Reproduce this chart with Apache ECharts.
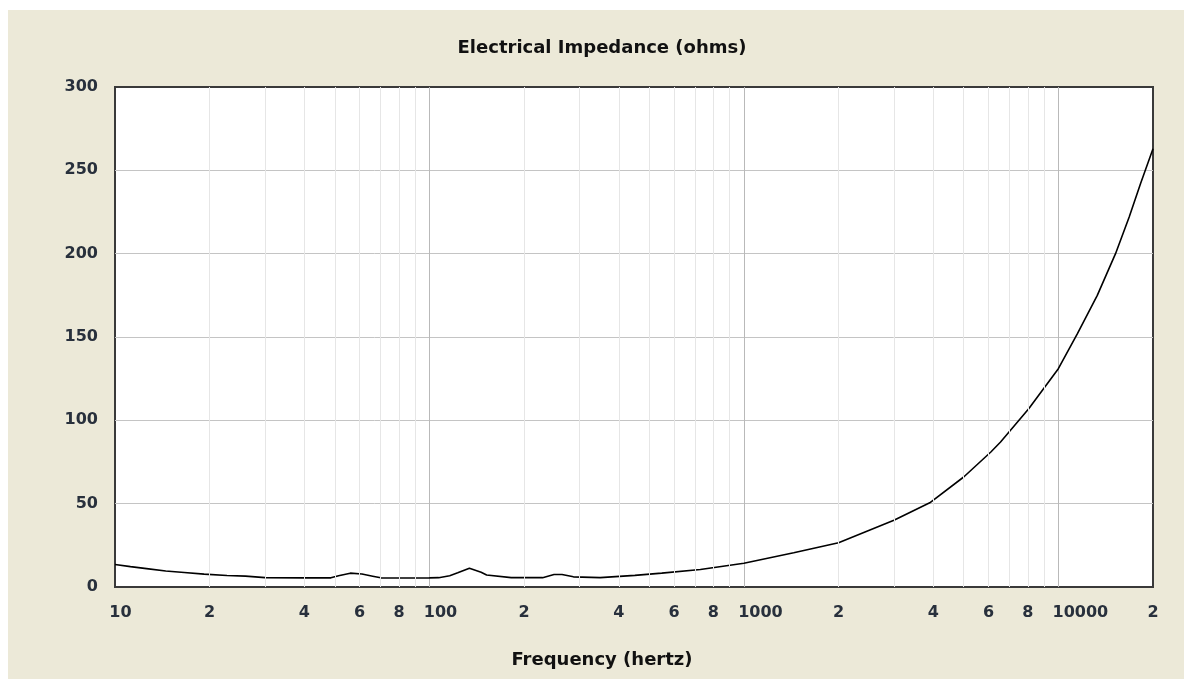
<!DOCTYPE html>
<html><head><meta charset="utf-8">
<script src="https://cdn.jsdelivr.net/npm/echarts@6/dist/echarts.min.js"></script>
<style>
html,body{margin:0;padding:0;background:#fff;width:1184px;height:679px;overflow:hidden}
#chart{position:absolute;left:8px;top:10px;width:1176px;height:669px;background:#ECE9D8}
</style></head><body><div id="chart"></div>
<script>
const frequencies = [10, 11.2, 12.6, 14.5, 16.6, 19.2, 22.7, 26, 30, 40, 48.6, 51.4, 56, 61, 66, 70, 80, 90, 100, 107, 116, 123, 134, 146, 152, 182, 229, 249, 264, 287, 349, 450, 548, 727, 1000, 1440, 2000, 3000, 3900, 5000, 6100, 6550, 8050, 10000, 11500, 13300, 15200, 16800, 18250, 20000];
const impedance   = [13.5, 12.2, 11.0, 9.6, 8.7, 7.7, 6.9, 6.5, 5.6, 5.5, 5.5, 6.8, 8.3, 7.8, 6.5, 5.5, 5.4, 5.4, 5.5, 5.6, 6.8, 8.5, 11.3, 8.9, 7.2, 5.6, 5.6, 7.5, 7.5, 6.1, 5.6, 7.0, 8.3, 10.5, 14.3, 20.5, 26.5, 40, 50.5, 66, 81, 87, 107, 131, 152, 175, 200, 222, 242, 263];
const minorGridFreqs = [20,30,40,50,60,70,80,90,200,300,400,500,600,700,800,900,2000,3000,4000,5000,6000,7000,8000,9000];
const xTickLabelFreqs = [10,20,40,60,80,100,200,400,600,800,1000,2000,4000,6000,8000,10000,20000];
const titleText = 'Electrical Impedance (ohms)';
const xAxisTitle = 'Frequency (hertz)';

const chart = echarts.init(document.getElementById('chart'));
const labelFont = {fontFamily:'DejaVu Sans', fontSize:16, fontWeight:'bold', color:'#28303c'};
const rich = {};
[2,3,4,5].forEach(n => { rich['d'+n] = Object.assign({padding:[0,0,0,(n-1)*11]}, labelFont); });

chart.setOption({
  animation:false,
  graphic:[
    {type:'text', x:594, y:29, style:{text:titleText, fontFamily:'DejaVu Sans', fontWeight:'bold', fontSize:18, fill:'#111', textAlign:'center'}},
    {type:'text', x:594, y:641, style:{text:xAxisTitle, fontFamily:'DejaVu Sans', fontWeight:'bold', fontSize:18, fill:'#111', textAlign:'center'}}
  ],
  grid:{left:107, top:77, right:31, bottom:92, show:true, backgroundColor:'#fff', borderColor:'#3a3a3a', borderWidth:2},
  xAxis:{type:'log', logBase:10, min:10, max:20000,
    axisLine:{show:false}, axisTick:{show:false},
    splitLine:{show:true, showMinLine:false, showMaxLine:false, lineStyle:{color:'#b9b9b9', width:1}},
    axisLabel:Object.assign({customValues:xTickLabelFreqs, margin:18, rich:rich,
      formatter:function(v){ const s=String(Math.round(v)); if(/^10*$/.test(s)) return '{d'+s.length+'|'+s+'}'; return s.charAt(0); }}, labelFont)
  },
  yAxis:{type:'value', min:0, max:300, interval:50,
    axisLine:{show:false}, axisTick:{show:false},
    splitLine:{show:true, showMinLine:false, showMaxLine:false, lineStyle:{color:'#c4c4c4', width:1}},
    axisLabel:Object.assign({margin:17}, labelFont)
  },
  series:[
    {type:'line', data:[], z:1, silent:true,
      markLine:{silent:true, symbol:['none','none'], label:{show:false}, lineStyle:{color:'#e6e6e6', type:'solid', width:1},
        data:minorGridFreqs.map(f=>({xAxis:f}))}},
    {type:'line', z:3, showSymbol:false, data:frequencies.map((f,i)=>[f, impedance[i]]),
      lineStyle:{color:'#000', width:1.6}}
  ]
});
</script></body></html>
